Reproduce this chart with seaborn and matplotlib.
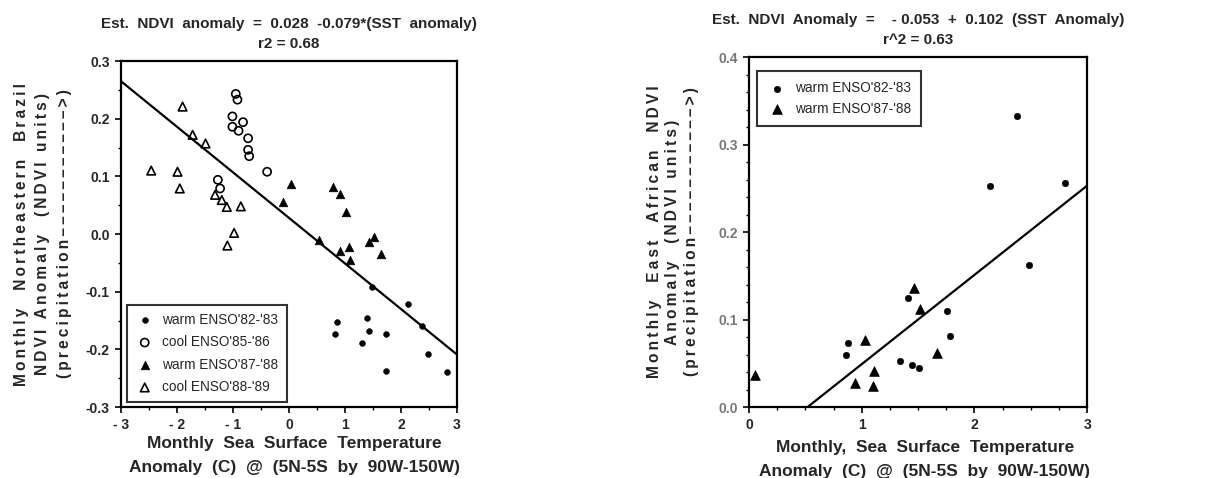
import numpy as np
import pandas as pd
import matplotlib
matplotlib.use("Agg")
import matplotlib.pyplot as plt
import seaborn as sns
from matplotlib.ticker import MultipleLocator

# --- NE Brazil panel (SST anomaly vs NDVI anomaly) ---
br_warm82_x = [1.49, 2.13, 2.38, 2.49, 2.82, 1.74, 1.74, 1.39, 1.43, 1.30, 0.85, 0.82]
br_warm82_y = [-0.091, -0.121, -0.160, -0.208, -0.240, -0.173, -0.237, -0.146, -0.168, -0.189, -0.153, -0.173]

br_cool85_x = [-0.95, -0.92, -1.01, -1.01, -0.82, -0.90, -0.73, -0.73, -0.71, -0.39, -1.27, -1.23]
br_cool85_y = [0.243, 0.233, 0.204, 0.186, 0.194, 0.179, 0.166, 0.146, 0.135, 0.108, 0.094, 0.079]

br_warm87_x = [0.03, -0.11, 0.79, 0.91, 1.01, 0.54, 0.91, 1.08, 1.09, 1.43, 1.51, 1.65]
br_warm87_y = [0.086, 0.055, 0.081, 0.069, 0.039, -0.010, -0.029, -0.023, -0.045, -0.013, -0.006, -0.035]

br_cool88_x = [-1.90, -1.72, -1.49, -2.46, -1.99, -1.95, -1.32, -1.20, -1.11, -0.86, -0.98, -1.10]
br_cool88_y = [0.221, 0.172, 0.157, 0.110, 0.108, 0.079, 0.068, 0.059, 0.047, 0.048, 0.002, -0.020]

br_intercept, br_slope = 0.028, -0.079

# --- East Africa panel ---
ea_warm82_x = [2.38, 2.14, 2.80, 2.48, 1.41, 1.76, 1.78, 0.88, 0.86, 1.34, 1.45, 1.51]
ea_warm82_y = [0.333, 0.253, 0.256, 0.162, 0.125, 0.110, 0.081, 0.073, 0.059, 0.053, 0.048, 0.045]

ea_warm87_x = [0.05, 1.46, 1.52, 1.03, 1.67, 1.11, 0.94, 1.10]
ea_warm87_y = [0.037, 0.136, 0.112, 0.077, 0.062, 0.041, 0.027, 0.024]

ea_intercept, ea_slope = -0.053, 0.102

# tick labels
br_xticklabels = ['- 3', '- 2', '- 1', '0', '1', '2', '3']
br_yticklabels = ['-0.3', '-0.2', '-0.1', '0.0', '0.1', '0.2', '0.3']
ea_xticklabels = ['0', '1', '2', '3']
ea_yticklabels = ['0.0', '0.1', '0.2', '0.3', '0.4']

arrow = '(precipitation' + '\u2013' * 11 + '>)'


def spaced(txt):
    # wide letter spacing like the old typeset y labels
    lines = txt.split('\n')
    return '\n'.join('\u2009'.join(line) for line in lines)


sns.set_style("ticks")
plt.rcParams['font.family'] = ['Liberation Sans', 'DejaVu Sans']

fig = plt.figure(figsize=(12.32, 4.78), dpi=100)
ax1 = fig.add_axes([0.0982, 0.1485, 0.2727, 0.7238])
ax2 = fig.add_axes([0.608, 0.1485, 0.2744, 0.7322])

xlabel = 'Monthly  Sea  Surface  Temperature\nAnomaly  (C)  @  (5N-5S  by  90W-150W)'
bold = dict(fontweight='bold', fontsize=12.5)
ybold = dict(fontweight='bold', fontsize=11.2)

# left panel
sns.scatterplot(x=br_warm82_x, y=br_warm82_y, ax=ax1, marker='o', s=18, color='black',
                edgecolor='black', label="warm ENSO'82-'83")
sns.scatterplot(x=br_cool85_x, y=br_cool85_y, ax=ax1, marker='o', s=34, facecolor='none',
                edgecolor='black', linewidth=1.2, label="cool ENSO'85-'86")
sns.scatterplot(x=br_warm87_x, y=br_warm87_y, ax=ax1, marker='^', s=38, color='black',
                edgecolor='black', label="warm ENSO'87-'88")
sns.scatterplot(x=br_cool88_x, y=br_cool88_y, ax=ax1, marker='^', s=38, facecolor='none',
                edgecolor='black', linewidth=1.2, label="cool ENSO'88-'89")
fit_x = np.array([-3.0, 3.0])
ax1.plot(fit_x, br_intercept + br_slope * fit_x, color='black', lw=1.6)
ax1.set_xlim(-3, 3)
ax1.set_ylim(-0.3, 0.3)
ax1.set_xticks(np.arange(-3, 4, 1))
ax1.set_xticklabels(br_xticklabels)
ax1.set_yticks(np.round(np.arange(-0.3, 0.31, 0.1), 1))
ax1.set_yticklabels(br_yticklabels)
ax1.xaxis.set_minor_locator(MultipleLocator(0.5))
ax1.yaxis.set_minor_locator(MultipleLocator(0.05))
ax1.set_title('Est.  NDVI  anomaly  =  0.028  -0.079*(SST  anomaly)\nr2 = 0.68',
              fontsize=11, fontweight='bold', pad=9.5, linespacing=1.5)
ax1.set_xlabel(xlabel, linespacing=1.8, **bold)
ax1.xaxis.set_label_coords(0.515, -0.083)
ax1.set_ylabel(spaced('Monthly  Northeastern  Brazil\nNDVI Anomaly  (NDVI units)\n' + arrow),
               labelpad=10, linespacing=1.55, **ybold)
leg = ax1.legend(loc='lower left', fontsize=9.8, frameon=True, fancybox=False,
                 edgecolor='black', handletextpad=0.6, handlelength=1.4, borderpad=0.6,
                 labelspacing=0.62, borderaxespad=0.0, bbox_to_anchor=(0.018, 0.014))
leg.get_frame().set_linewidth(1.5)

# right panel
sns.scatterplot(x=ea_warm82_x, y=ea_warm82_y, ax=ax2, marker='o', s=22, color='black',
                edgecolor='black', label="warm ENSO'82-'83")
sns.scatterplot(x=ea_warm87_x, y=ea_warm87_y, ax=ax2, marker='^', s=48, color='black',
                edgecolor='black', label="warm ENSO'87-'88")
fit_x2 = np.array([0.0, 3.0])
ax2.plot(fit_x2, ea_intercept + ea_slope * fit_x2, color='black', lw=1.6)
ax2.set_xlim(0, 3)
ax2.set_ylim(0, 0.4)
ax2.set_xticks(np.arange(0, 4, 1))
ax2.set_xticklabels(ea_xticklabels)
ax2.set_yticks(np.round(np.arange(0, 0.41, 0.1), 1))
ax2.set_yticklabels(ea_yticklabels, color='#777777')
ax2.xaxis.set_minor_locator(MultipleLocator(0.25))
ax2.yaxis.set_minor_locator(MultipleLocator(0.02))
ax2.set_title('Est.  NDVI  Anomaly  =    - 0.053  +  0.102  (SST  Anomaly)\nr^2 = 0.63',
              fontsize=11, fontweight='bold', pad=9.5, linespacing=1.5)
ax2.set_xlabel(xlabel.replace('Monthly', 'Monthly,'), linespacing=1.8, **bold)
ax2.xaxis.set_label_coords(0.52, -0.093)
ax2.set_ylabel(spaced('Monthly  East  African  NDVI\nAnomaly  (NDVI units)\n' + arrow),
               labelpad=14, linespacing=1.3, **ybold)
leg2 = ax2.legend(loc='upper left', fontsize=9.8, frameon=True, fancybox=False,
                  edgecolor='black', handletextpad=0.6, handlelength=1.4, borderpad=0.75,
                  labelspacing=0.5, borderaxespad=0.0, bbox_to_anchor=(0.024, 0.96))
leg2.get_frame().set_linewidth(1.5)

for ax in (ax1, ax2):
    for sp in ax.spines.values():
        sp.set_visible(True)
        sp.set_linewidth(1.6)
        sp.set_color('black')
    ax.tick_params(which='major', direction='out', length=4, width=1.2,
                   labelsize=10, color='black', pad=4)
    ax.tick_params(which='minor', direction='out', length=2, width=1, color='black')
    ax.tick_params(axis='x', which='both', top=False)
    ax.tick_params(axis='y', which='both', right=False)
    for lab in ax.get_xticklabels() + ax.get_yticklabels():
        lab.set_fontweight('bold')
    ax.set_facecolor('white')

fig.savefig('out.png', dpi=100, facecolor='white')
